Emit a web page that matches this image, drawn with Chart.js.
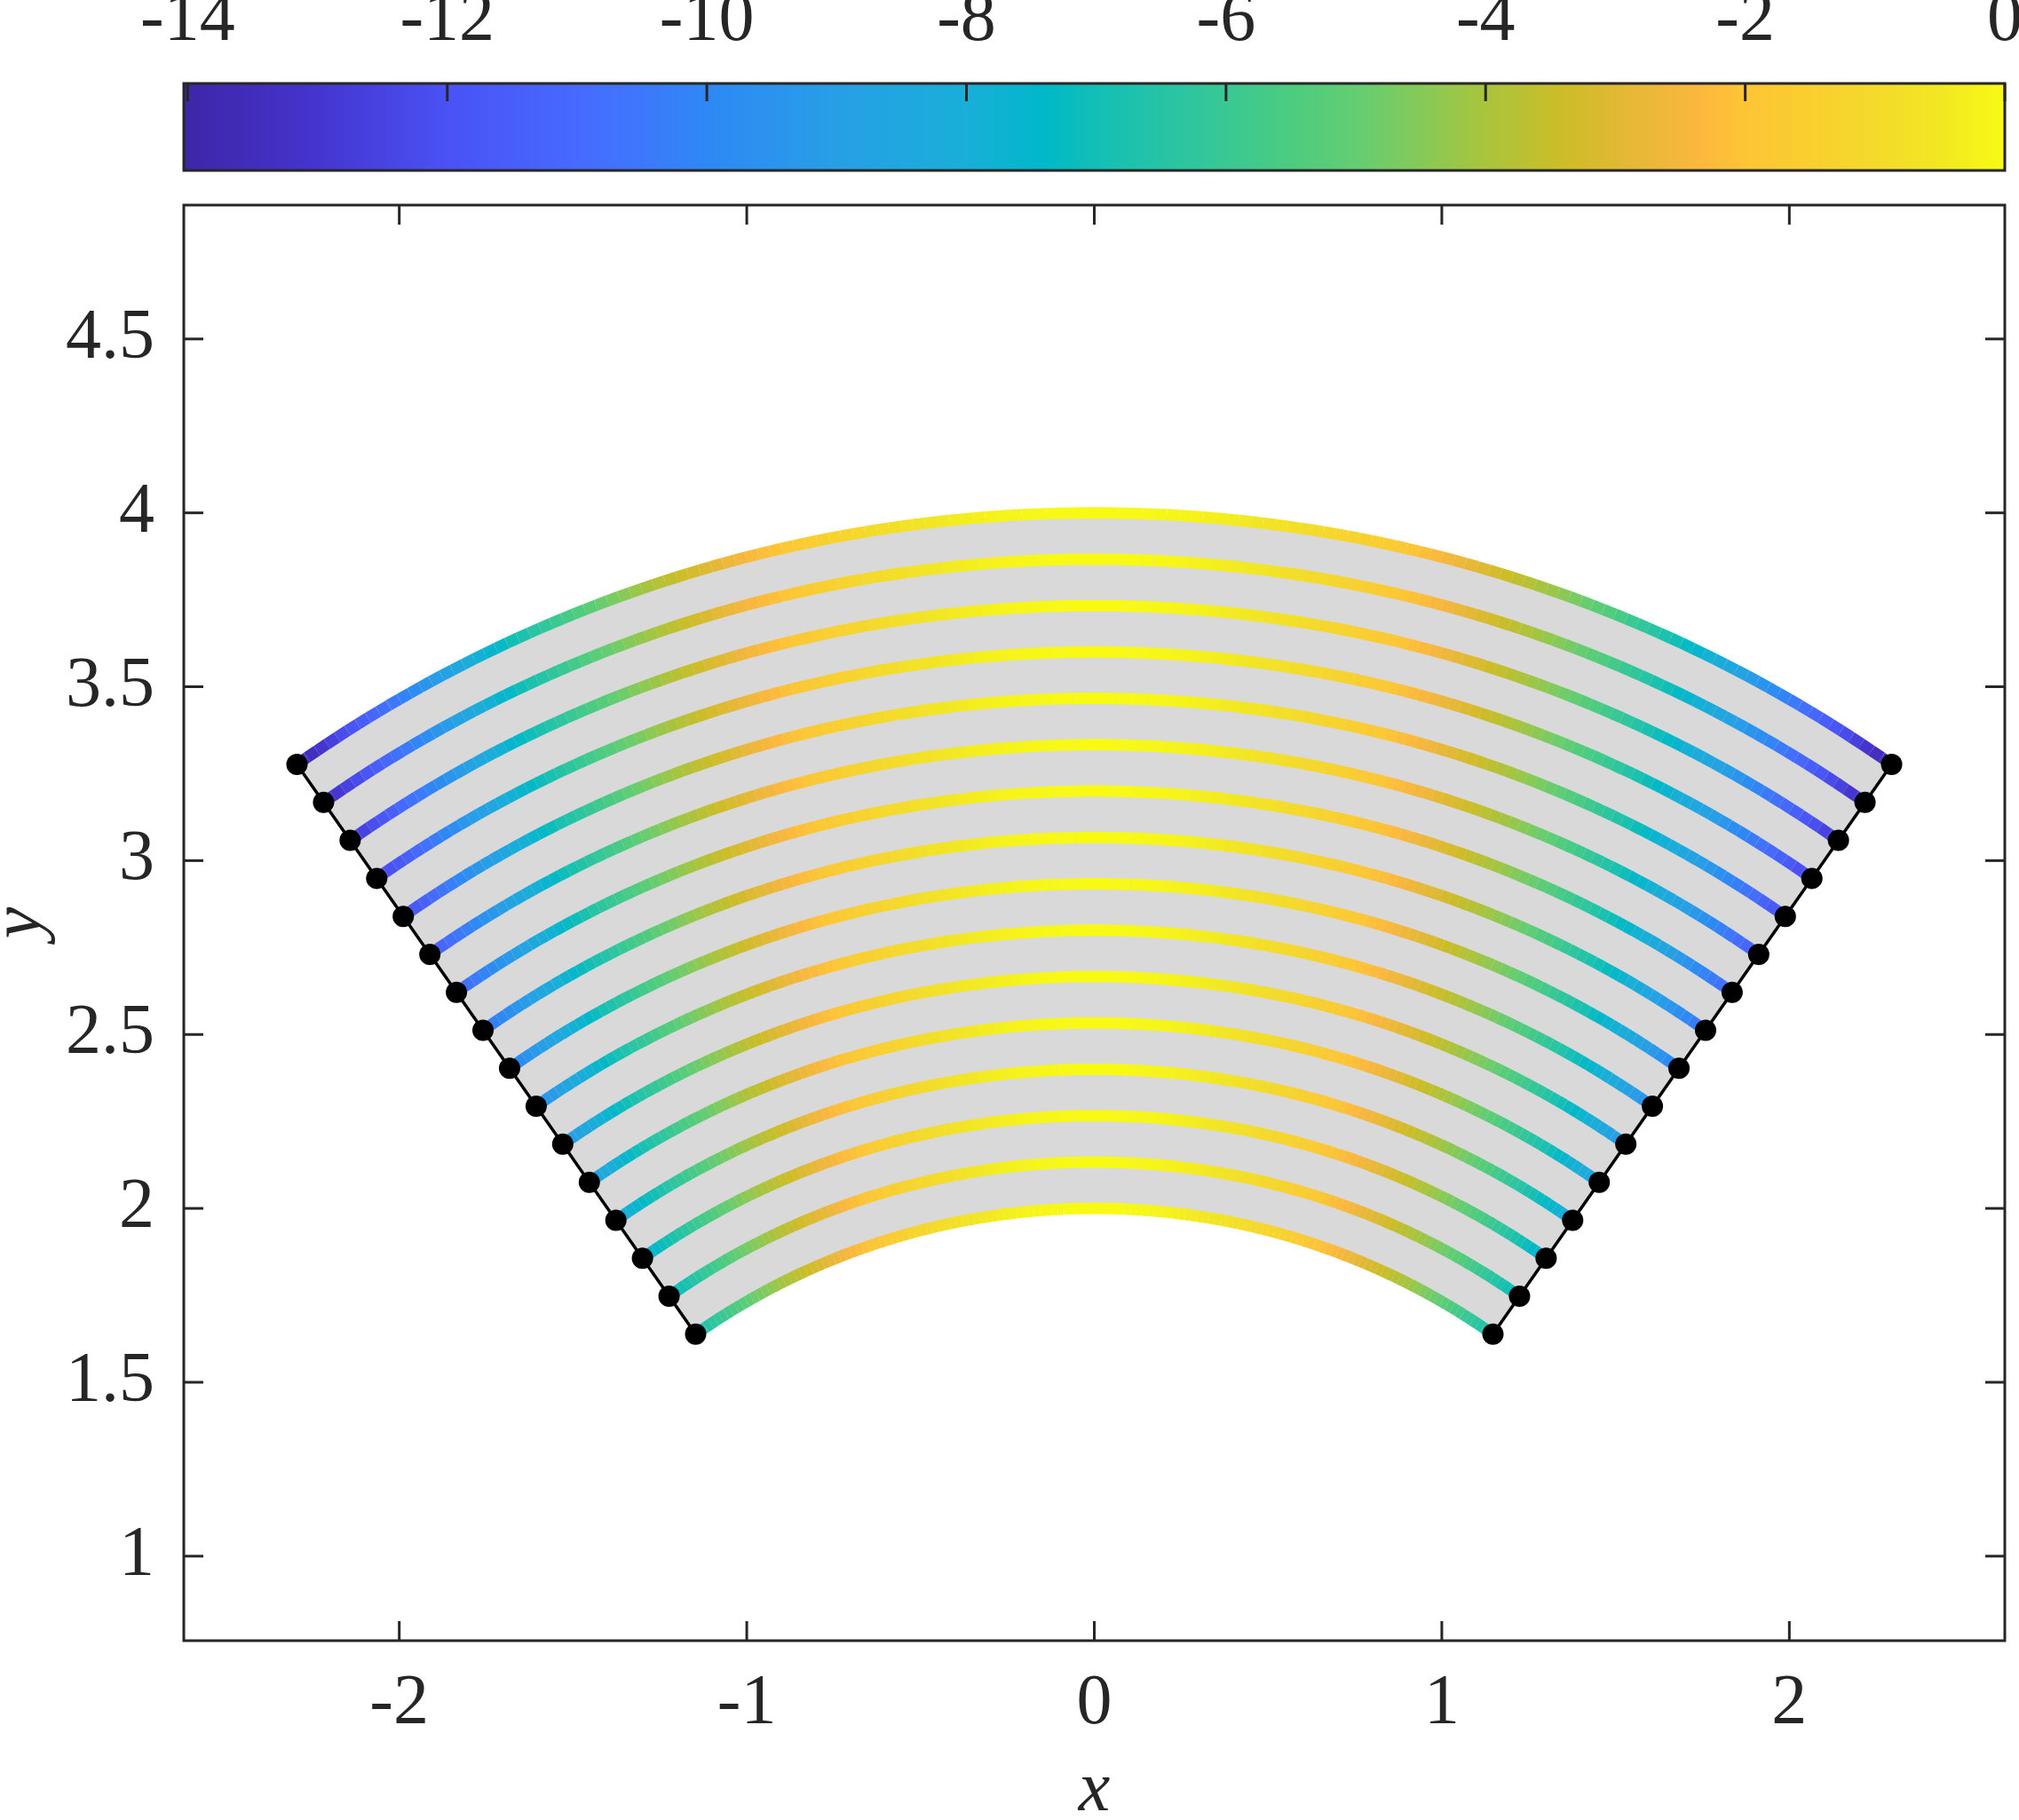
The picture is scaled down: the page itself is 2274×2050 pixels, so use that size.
<!DOCTYPE html>
<html>
<head>
<meta charset="utf-8">
<script src="https://cdn.jsdelivr.net/npm/chart.js@4.4.1/dist/chart.umd.min.js"></script>
<style>
  html, body { margin: 0; padding: 0; background: #fff; overflow: hidden; }
  #wrap { position: relative; width: 2274px; height: 2050px; }
  #mainBox { position: absolute; left: 0; top: 0; width: 2274px; height: 2050px; }
  #cbBox { position: absolute; left: 0; top: 0; width: 2274px; height: 200px; }
</style>
</head>
<body>
<div id="wrap">
  <div id="mainBox"><canvas id="mainChart"></canvas></div>
  <div id="cbBox"><canvas id="cbChart"></canvas></div>
</div>
<script>
// radii of the arcs (inner 2 to outer 4)
const radii = [2.0000, 2.1333, 2.2667, 2.4000, 2.5333, 2.6667, 2.8000, 2.9333,
               3.0667, 3.2000, 3.3333, 3.4667, 3.6000, 3.7333, 3.8667, 4.0000];
// value at both ends of each arc (top of every arc is 0)
const endValues = [-7.00, -7.47, -7.93, -8.40, -8.87, -9.33, -9.80, -10.27,
                   -10.73, -11.20, -11.67, -12.13, -12.60, -13.07, -13.53, -14.00];
const halfAngle = 35; // degrees either side of the y axis

const xTicks = [-2, -1, 0, 1, 2];
const yTicks = [1, 1.5, 2, 2.5, 3, 3.5, 4, 4.5];
const cbTicks = [-14, -12, -10, -8, -6, -4, -2, 0];

// colour map
const cmapValues = [-14, -13, -12, -11, -10.5, -10, -9, -8, -7.4, -7, -6.5, -6, -5.5, -5,
                    -4.5, -4, -3.4, -3, -2.5, -2.3, -2, -1.5, -1, -0.5, 0];
const cmapColors = ['#3e26a8', '#4535cf', '#4a52f5', '#466aff', '#3d78fc', '#2e88f5', '#279fe6',
                    '#18afd8', '#00b8c9', '#12bfb6', '#26c4a6', '#38c894', '#4ccc80', '#64cd72',
                    '#86ca58', '#a9c43d', '#cdbd27', '#e0b933', '#f5b73d', '#fdb93c', '#fdc535',
                    '#f9cf2f', '#f4da2a', '#f2e722', '#f8fa14'];

const FONT = "'Liberation Serif', 'DejaVu Serif', serif";
const INK = '#262626';

function hexRgb(h) {
    return [parseInt(h.slice(1, 3), 16), parseInt(h.slice(3, 5), 16), parseInt(h.slice(5, 7), 16)];
}
const cmapRgb = cmapColors.map(hexRgb);

function cmap(v) {
    if (v <= cmapValues[0]) return cmapColors[0];
    for (let i = 1; i < cmapValues.length; i++) {
        if (v <= cmapValues[i]) {
            const f = (v - cmapValues[i - 1]) / (cmapValues[i] - cmapValues[i - 1]);
            const a = cmapRgb[i - 1], b = cmapRgb[i];
            return 'rgb(' + a.map((c, k) => Math.round(c + (b[k] - c) * f)).join(',') + ')';
        }
    }
    return cmapColors[cmapColors.length - 1];
}

function arcPoints(r, endV, fromDeg, toDeg) {
    const pts = [];
    const n = Math.round(Math.abs(toDeg - fromDeg) / 0.5);
    for (let i = 0; i <= n; i++) {
        const a = fromDeg + (toDeg - fromDeg) * i / n;
        const t = a * Math.PI / 180;
        pts.push({ x: r * Math.sin(t), y: r * Math.cos(t), v: endV * Math.pow(a / halfAngle, 2) });
    }
    return pts;
}

function edgePoints(deg) {
    const t = deg * Math.PI / 180;
    return radii.map(r => ({ x: r * Math.sin(t), y: r * Math.cos(t) }));
}

// frame + inward tick marks
const framePlugin = {
    id: 'frame',
    afterDraw(chart, args, opts) {
        const { ctx, chartArea: a } = chart;
        const len = opts.tickLength || 22;
        ctx.save();
        ctx.strokeStyle = INK;
        ctx.lineWidth = 3;
        function seg(x1, y1, x2, y2) {
            ctx.beginPath(); ctx.moveTo(x1, y1); ctx.lineTo(x2, y2); ctx.stroke();
        }
        const xs = chart.scales.x;
        xs.ticks.forEach(t => {
            const p = xs.getPixelForValue(t.value);
            if (opts.top) seg(p, a.top, p, a.top + len);
            if (opts.bottom) seg(p, a.bottom, p, a.bottom - len);
        });
        if (opts.sides) {
            const ys = chart.scales.y;
            ys.ticks.forEach(t => {
                const p = ys.getPixelForValue(t.value);
                seg(a.left, p, a.left + len, p);
                seg(a.right, p, a.right - len, p);
            });
        }
        ctx.strokeRect(a.left, a.top, a.right - a.left, a.bottom - a.top);
        ctx.restore();
    }
};

// colour bar gradient
const gradientPlugin = {
    id: 'cbGradient',
    beforeDraw(chart) {
        const { ctx, chartArea: a } = chart;
        const xs = chart.scales.x;
        const g = ctx.createLinearGradient(a.left, 0, a.right, 0);
        cmapValues.forEach((v, i) => {
            const f = (xs.getPixelForValue(v) - a.left) / (a.right - a.left);
            g.addColorStop(Math.min(1, Math.max(0, f)), cmapColors[i]);
        });
        ctx.save();
        ctx.fillStyle = g;
        ctx.fillRect(a.left, a.top, a.right - a.left, a.bottom - a.top);
        ctx.restore();
    }
};

document.addEventListener("DOMContentLoaded", function () {
    const datasets = [];

    // radial edges with markers
    [-halfAngle, halfAngle].forEach(function (deg) {
        datasets.push({
            data: edgePoints(deg),
            showLine: true,
            borderColor: '#000000',
            borderWidth: 3.5,
            pointRadius: 12,
            pointBackgroundColor: '#000000',
            pointBorderWidth: 0,
            order: 1
        });
    });

    // coloured arcs
    radii.forEach(function (r, i) {
        const pts = arcPoints(r, endValues[i], -halfAngle, halfAngle);
        datasets.push({
            data: pts,
            showLine: true,
            borderWidth: 13,
            borderColor: cmap(0),
            borderCapStyle: 'butt',
            pointRadius: 0,
            tension: 0,
            segment: {
                borderColor: c => cmap((pts[c.p0DataIndex].v + pts[c.p1DataIndex].v) / 2)
            },
            order: 2
        });
    });

    // grey sector underneath
    const rIn = radii[0], rOut = radii[radii.length - 1];
    const shape = arcPoints(rOut, 0, -halfAngle, halfAngle)
        .concat(arcPoints(rIn, 0, halfAngle, -halfAngle))
        .map(p => ({ x: p.x, y: p.y }));
    datasets.push({
        data: shape,
        showLine: true,
        borderWidth: 0,
        borderColor: 'rgba(0,0,0,0)',
        backgroundColor: '#d9d9d9',
        fill: 'shape',
        pointRadius: 0,
        order: 3
    });

    new Chart(document.getElementById('mainChart').getContext('2d'), {
        type: 'scatter',
        data: { datasets: datasets },
        options: {
            responsive: true,
            maintainAspectRatio: false,
            animation: false,
            events: [],
            layout: { padding: { top: 231, right: 16, bottom: 0, left: 0 } },
            plugins: {
                legend: { display: false },
                tooltip: { enabled: false },
                frame: { top: true, bottom: true, sides: true, tickLength: 22 }
            },
            scales: {
                x: {
                    type: 'linear',
                    min: -2.62,
                    max: 2.62,
                    afterBuildTicks: s => { s.ticks = xTicks.map(v => ({ value: v })); },
                    afterFit: s => { s.height = 202; s.paddingLeft = 0; s.paddingRight = 0; },
                    grid: { display: false },
                    border: { display: false },
                    ticks: {
                        padding: 16, color: INK, maxRotation: 0, autoSkip: false,
                        font: { family: FONT, size: 80 },
                        callback: v => String(v)
                    },
                    title: {
                        display: true, text: 'x', color: INK, padding: 0,
                        font: { family: FONT, size: 80, style: 'italic', lineHeight: 0.8 }
                    }
                },
                y: {
                    type: 'linear',
                    min: 0.757,
                    max: 4.885,
                    afterBuildTicks: s => { s.ticks = yTicks.map(v => ({ value: v })); },
                    afterFit: s => { s.width = 207; s.paddingTop = 0; s.paddingBottom = 0; },
                    grid: { display: false },
                    border: { display: false },
                    ticks: {
                        padding: 25, color: INK, autoSkip: false,
                        font: { family: FONT, size: 80 },
                        callback: v => String(v)
                    },
                    title: {
                        display: true, text: 'y', color: INK, padding: 0,
                        font: { family: FONT, size: 80, style: 'italic', lineHeight: 0.6 }
                    }
                }
            }
        },
        plugins: [framePlugin]
    });

    new Chart(document.getElementById('cbChart').getContext('2d'), {
        type: 'scatter',
        data: { datasets: [] },
        options: {
            responsive: true,
            maintainAspectRatio: false,
            animation: false,
            events: [],
            layout: { padding: { top: 0, right: 16, bottom: 8, left: 207 } },
            plugins: {
                legend: { display: false },
                tooltip: { enabled: false },
                frame: { top: true, bottom: false, sides: false, tickLength: 20 }
            },
            scales: {
                x: {
                    type: 'linear',
                    position: 'top',
                    min: -14.03,
                    max: 0,
                    afterBuildTicks: s => { s.ticks = cbTicks.map(v => ({ value: v })); },
                    afterFit: s => { s.height = 94; s.paddingLeft = 0; s.paddingRight = 0; },
                    grid: { display: false },
                    border: { display: false },
                    ticks: {
                        padding: 14, color: INK, maxRotation: 0, autoSkip: false,
                        font: { family: FONT, size: 80 },
                        callback: v => String(v)
                    }
                },
                y: { display: false, min: 0, max: 1 }
            }
        },
        plugins: [gradientPlugin, framePlugin]
    });
});
</script>
</body>
</html>
